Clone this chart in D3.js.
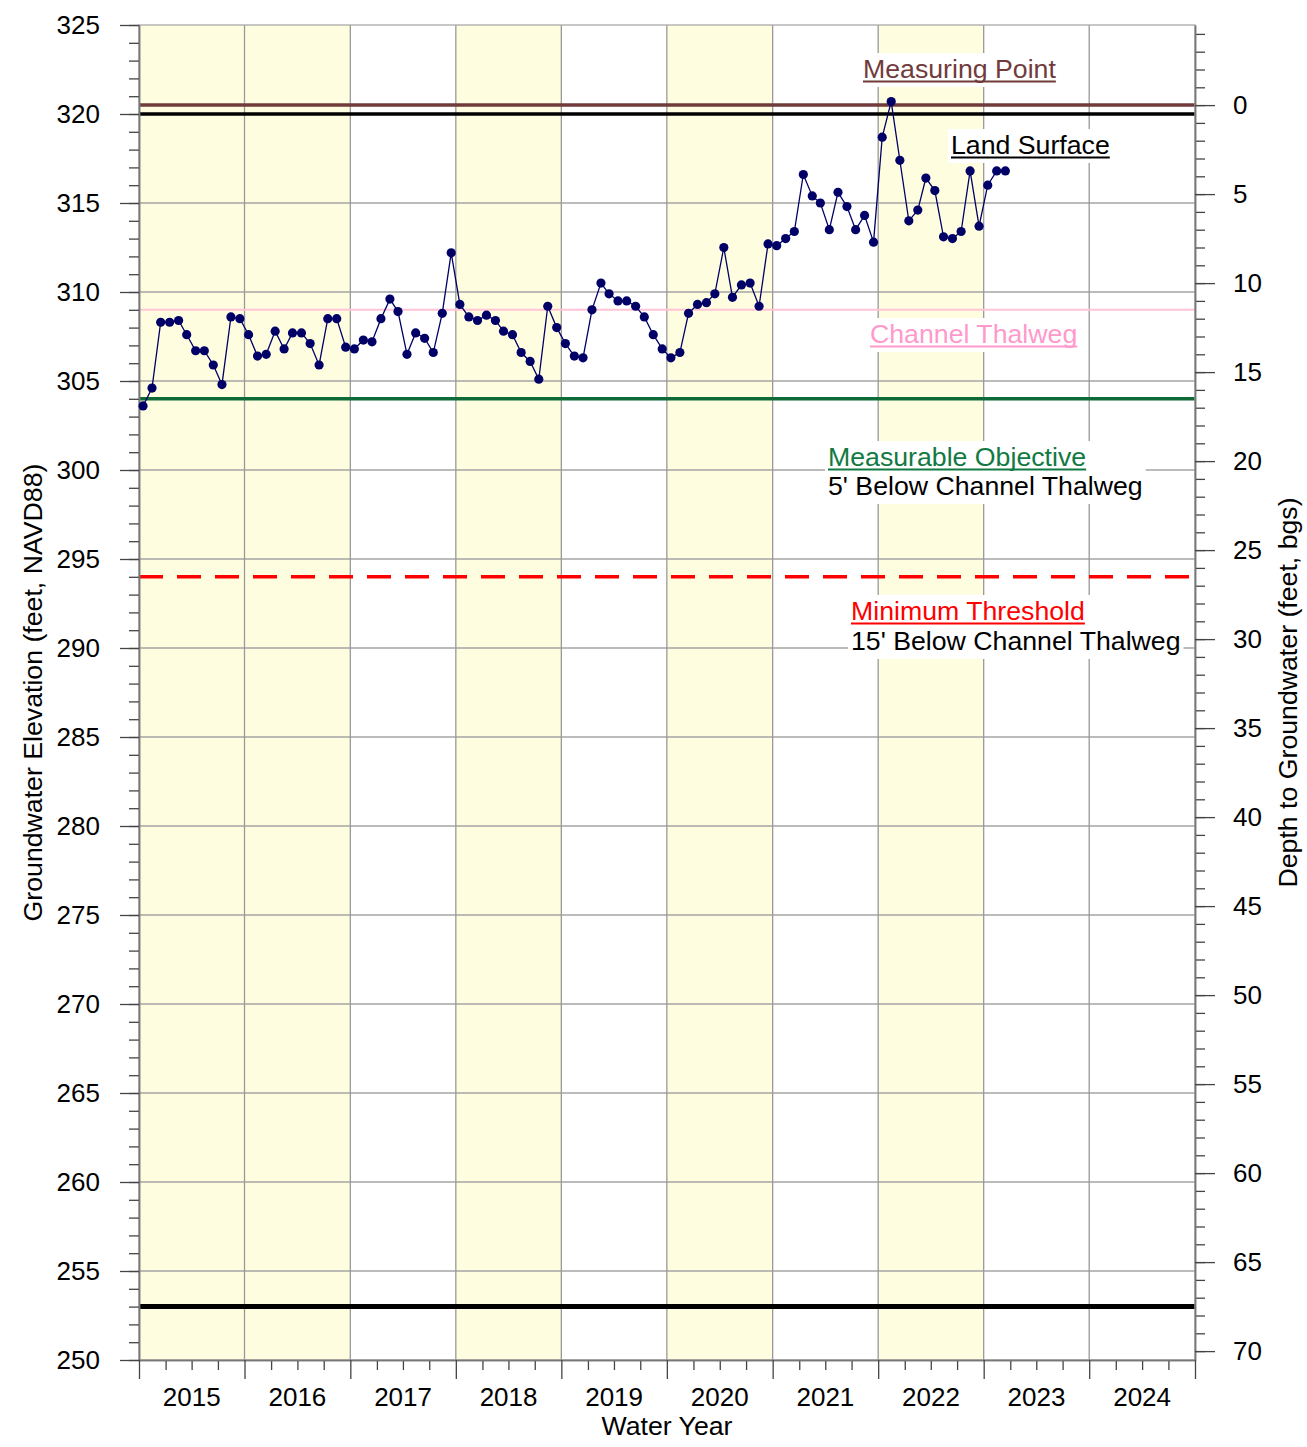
<!DOCTYPE html>
<html><head><meta charset="utf-8">
<script src="https://cdn.jsdelivr.net/npm/d3@7"></script>
<style>
body{margin:0;background:#fff}
text{font-family:Arial,"Liberation Sans",sans-serif}
</style>
</head><body>
<svg id="c" width="1307" height="1447"></svg>
<script>
// ---------------- DATA ----------------
const sampleDates = [
 "2014-10-15","2014-11-15","2014-12-15",
 "2015-01-15","2015-02-15","2015-03-15","2015-04-15","2015-05-15","2015-06-15","2015-07-15","2015-08-15","2015-09-15","2015-10-15","2015-11-15","2015-12-15",
 "2016-01-15","2016-02-15","2016-03-15","2016-04-15","2016-05-15","2016-06-15","2016-07-15","2016-08-15","2016-09-15","2016-10-15","2016-11-15","2016-12-15",
 "2017-01-15","2017-02-15","2017-03-15","2017-04-15","2017-05-15","2017-06-15","2017-07-15","2017-08-15","2017-09-15","2017-10-15","2017-11-15","2017-12-15",
 "2018-01-15","2018-02-15","2018-03-15","2018-04-15","2018-05-15","2018-06-15","2018-07-15","2018-08-15","2018-09-15","2018-10-15","2018-11-15","2018-12-15",
 "2019-01-15","2019-02-15","2019-03-15","2019-04-15","2019-05-15","2019-06-15","2019-07-15","2019-08-15","2019-09-15","2019-10-15","2019-11-15","2019-12-15",
 "2020-01-15","2020-02-15","2020-03-15","2020-04-15","2020-05-15","2020-06-15","2020-07-15","2020-08-15","2020-09-15","2020-10-15","2020-11-15","2020-12-15",
 "2021-01-15","2021-02-15","2021-03-15","2021-04-15","2021-05-15","2021-06-15","2021-07-15","2021-08-15","2021-09-15","2021-10-15","2021-11-15","2021-12-15",
 "2022-01-15","2022-02-15","2022-03-15","2022-04-15","2022-05-15","2022-06-15","2022-07-15","2022-08-15","2022-09-15","2022-10-15","2022-11-15","2022-12-15"
];
const elevations = [
 303.6,304.6,308.3,308.3,308.4,307.6,306.7,306.7,305.9,304.8,308.6,308.5,
 307.6,306.4,306.5,307.8,306.8,307.7,307.7,307.1,305.9,308.5,308.5,306.9,
 306.8,307.3,307.2,308.5,309.6,308.9,306.5,307.7,307.4,306.6,308.8,312.2,
 309.3,308.6,308.4,308.7,308.4,307.8,307.6,306.6,306.1,305.1,309.2,308.0,
 307.1,306.4,306.3,309.0,310.5,309.9,309.5,309.5,309.2,308.6,307.6,306.8,
 306.3,306.6,308.8,309.3,309.4,309.9,312.5,309.7,310.4,310.5,309.2,312.7,
 312.6,313.0,313.4,316.6,315.4,315.0,313.5,315.6,314.8,313.5,314.3,312.8,
 318.7,320.7,317.4,314.0,314.6,316.4,315.7,313.1,313.0,313.4,316.8,313.7,
 316.0,316.8,316.8
];
const waterYears = [2015,2016,2017,2018,2019,2020,2021,2022,2023,2024];
const shadedYears = [2015,2016,2018,2020,2022];
const leftTicks = [250,255,260,265,270,275,280,285,290,295,300,305,310,315,320,325];
const rightTicks = [0,5,10,15,20,25,30,35,40,45,50,55,60,65,70];
const measuringPoint = 320.5;
const landSurface = 320;
const channelThalweg = 309;
const measurableObjective = 304;
const minimumThreshold = 294;
const wellBottom = 253;

// ---------------- LAYOUT ----------------
const L = 139, R = 1195, T = 25, B = 1360;
const svg = d3.select("#c");
const parse = d3.timeParse("%Y-%m-%d");
const wyStart = y => new Date(y - 1, 9, 1);
const x = d3.scaleTime().domain([wyStart(2015), wyStart(2025)]).range([L, R]);
const y = d3.scaleLinear().domain([250, 325]).range([B, T]);
const yD = d3.scaleLinear().domain([measuringPoint - 250, measuringPoint - 325]).range([B, T]);

const FONT = 26;
const LFONT = 26.7;
const gridCol = "#a4a4a4";

// shading
svg.append("g").selectAll("rect").data(shadedYears).join("rect")
  .attr("x", d => x(wyStart(d))).attr("y", T)
  .attr("width", d => x(wyStart(d + 1)) - x(wyStart(d)))
  .attr("height", B - T).attr("fill", "#FFFDE0");

// horizontal grid
svg.append("g").selectAll("line").data(leftTicks.filter(v => v > 250 && v < 325)).join("line")
  .attr("x1", L).attr("x2", R).attr("y1", d => y(d)).attr("y2", d => y(d))
  .attr("stroke", gridCol).attr("stroke-width", 1.3);
// vertical grid
svg.append("g").selectAll("line").data(waterYears.slice(1)).join("line")
  .attr("x1", d => x(wyStart(d))).attr("x2", d => x(wyStart(d)))
  .attr("y1", T).attr("y2", B).attr("stroke", "#999").attr("stroke-width", 1.3);

// reference lines
const refs = [
  {v: measuringPoint, c: "#713B3B", w: 3.5},
  {v: landSurface, c: "#000", w: 3.5},
  {v: channelThalweg, c: "#FFC4D6", w: 2},
  {v: measurableObjective, c: "#0E6B38", w: 3.5},
  {v: minimumThreshold, c: "#FF0000", w: 3.5, dash: "24,14"},
  {v: wellBottom, c: "#000", w: 5}
];
svg.append("g").selectAll("line").data(refs).join("line")
  .attr("x1", L).attr("x2", R).attr("y1", d => y(d.v)).attr("y2", d => y(d.v))
  .attr("stroke", d => d.c).attr("stroke-width", d => d.w)
  .attr("stroke-dasharray", d => d.dash || null);

// labels with white boxes
function label(lines, xx, baseY, lh) {
  const g = svg.append("g");
  const rect = g.append("rect").attr("fill", "#fff");
  lines.forEach((ln, i) => {
    const t = g.append("text").attr("x", xx).attr("y", baseY + i * lh)
      .attr("font-size", LFONT).attr("fill", ln.c).text(ln.t);
    if (ln.u) {
      const w = t.node().getComputedTextLength();
      g.append("line").attr("x1", xx).attr("x2", xx + w)
        .attr("y1", baseY + i * lh + 3.5).attr("y2", baseY + i * lh + 3.5)
        .attr("stroke", ln.c).attr("stroke-width", 1.8);
    }
  });
  const bb = g.node().getBBox();
  rect.attr("x", bb.x - 3).attr("y", bb.y - 1).attr("width", bb.width + 6).attr("height", bb.height + 4);
}
label([{t: "Measuring Point", c: "#713B3B", u: true}], 863, 78, 0);
label([{t: "Land Surface", c: "#000", u: true}], 951, 154, 0);
label([{t: "Channel Thalweg", c: "#FF99CC", u: true}], 870, 343, 0);
label([{t: "Measurable Objective", c: "#117A42", u: true}, {t: "5' Below Channel Thalweg", c: "#000"}], 828, 466, 29);
label([{t: "Minimum Threshold", c: "#FF0000", u: true}, {t: "15' Below Channel Thalweg", c: "#000"}], 851, 620, 30);

// border
svg.append("rect").attr("x", L).attr("y", T).attr("width", R - L).attr("height", B - T)
  .attr("fill", "none").attr("stroke", "#aaa").attr("stroke-width", 1.3);

// axes
const tickCol = "#444", axisCol = "#777";
function styleAxis(g) {
  g.select(".domain").attr("stroke", axisCol).attr("stroke-width", 1.5);
  g.selectAll(".tick line").attr("stroke", tickCol).attr("stroke-width", 1.3);
  g.selectAll("text").attr("font-size", FONT).attr("fill", "#000").attr("font-family", "Arial, 'Liberation Sans', sans-serif");
}
// left minor
svg.append("g").attr("transform", `translate(${L},0)`)
  .call(d3.axisLeft(y).tickValues(d3.range(250, 326, 1)).tickSize(10).tickSizeOuter(0).tickFormat(""))
  .call(styleAxis);
svg.append("g").attr("transform", `translate(${L},0)`)
  .call(d3.axisLeft(y).tickValues(leftTicks).tickSize(19).tickSizeOuter(0).tickPadding(20).tickFormat(d3.format("d")))
  .call(styleAxis);
// right
svg.append("g").attr("transform", `translate(${R},0)`)
  .call(d3.axisRight(yD).tickValues(d3.range(-4, 71, 1)).tickSize(10).tickSizeOuter(0).tickFormat(""))
  .call(styleAxis);
svg.append("g").attr("transform", `translate(${R},0)`)
  .call(d3.axisRight(yD).tickValues(rightTicks).tickSize(20).tickSizeOuter(0).tickPadding(18).tickFormat(d3.format("d")))
  .call(styleAxis);
// bottom
const quarters = [];
waterYears.forEach(w => { [3, 6, 9].forEach(m => quarters.push(d3.timeMonth.offset(wyStart(w), m))); });
svg.append("g").attr("transform", `translate(0,${B})`)
  .call(d3.axisBottom(x).tickValues(quarters).tickSize(10).tickSizeOuter(0).tickFormat(""))
  .call(styleAxis);
svg.append("g").attr("transform", `translate(0,${B})`)
  .call(d3.axisBottom(x).tickValues(waterYears.concat([2025]).map(wyStart)).tickSize(19).tickSizeOuter(0).tickFormat(""))
  .call(styleAxis);
svg.append("g").selectAll("text").data(waterYears).join("text")
  .attr("x", d => (x(wyStart(d)) + x(wyStart(d + 1))) / 2).attr("y", 1406)
  .attr("text-anchor", "middle").attr("font-size", FONT).text(d => d);

// titles
svg.append("text").attr("x", 667).attr("y", 1435).attr("text-anchor", "middle")
  .attr("font-size", LFONT).text("Water Year");
svg.append("text").attr("transform", `translate(42,${(T + B) / 2}) rotate(-90)`)
  .attr("text-anchor", "middle").attr("font-size", LFONT).text("Groundwater Elevation (feet, NAVD88)");
svg.append("text").attr("transform", `translate(1297,${(T + B) / 2}) rotate(-90)`)
  .attr("text-anchor", "middle").attr("font-size", LFONT).text("Depth to Groundwater (feet, bgs)");

// data
const pts = sampleDates.map((d, i) => ({d: parse(d), v: elevations[i]}));
svg.append("path").datum(pts)
  .attr("d", d3.line().x(p => x(p.d)).y(p => y(p.v)))
  .attr("fill", "none").attr("stroke", "#000066").attr("stroke-width", 1.3);
svg.append("g").selectAll("circle").data(pts).join("circle")
  .attr("cx", p => x(p.d)).attr("cy", p => y(p.v)).attr("r", 4.6).attr("fill", "#000066");
</script>
</body></html>
